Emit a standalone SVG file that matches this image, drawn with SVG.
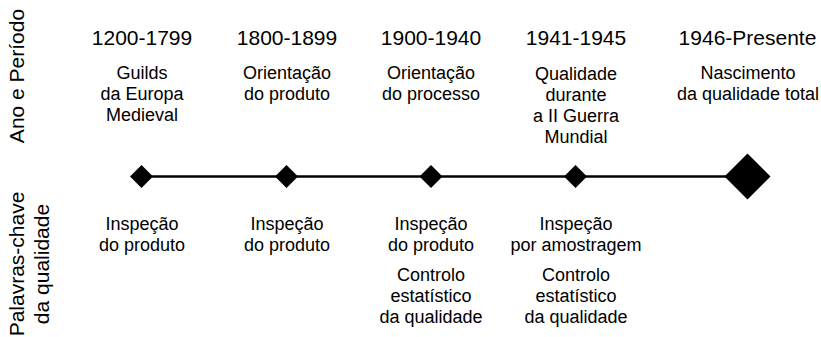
<svg xmlns="http://www.w3.org/2000/svg" width="821" height="337" viewBox="0 0 821 337">
<style>
text{font-family:"Liberation Sans",Arial,Helvetica,sans-serif;fill:#000;text-anchor:middle}
.yr{font-size:21px}
.t{font-size:18px}
.side{font-size:21px}
.dia{fill:#000}
</style>
<rect width="821" height="337" fill="#fff"/>
<g id="side-labels">
<text class="side" transform="translate(24,76) rotate(-90)">Ano e Período</text>
<text class="side" transform="translate(23.5,264) rotate(-90)">Palavras-chave</text>
<text class="side" transform="translate(49,264) rotate(-90)">da qualidade</text>
</g>
<g id="connectors">
<line x1="141.5" y1="176.5" x2="747.5" y2="176.5" stroke="#000" stroke-width="2.6"/>
</g>
<g id="node-1200">
<polygon class="dia" points="141.5,165 153,176.5 141.5,188 130,176.5"/>
<text class="yr" x="142" y="45">1200-1799</text>
<text class="t" x="142" y="79">Guilds</text>
<text class="t" x="142" y="100">da Europa</text>
<text class="t" x="142" y="120.5">Medieval</text>
<text class="t" x="142" y="230">Inspeção</text>
<text class="t" x="142" y="251">do produto</text>
</g>
<g id="node-1800">
<polygon class="dia" points="286.5,165 298,176.5 286.5,188 275,176.5"/>
<text class="yr" x="287" y="45">1800-1899</text>
<text class="t" x="287" y="79">Orientação</text>
<text class="t" x="287" y="100">do produto</text>
<text class="t" x="287" y="230">Inspeção</text>
<text class="t" x="287" y="251">do produto</text>
</g>
<g id="node-1900">
<polygon class="dia" points="431,165 442.5,176.5 431,188 419.5,176.5"/>
<text class="yr" x="431" y="45">1900-1940</text>
<text class="t" x="431" y="79">Orientação</text>
<text class="t" x="431" y="100">do processo</text>
<text class="t" x="431" y="230">Inspeção</text>
<text class="t" x="431" y="251">do produto</text>
<text class="t" x="431" y="281">Controlo</text>
<text class="t" x="431" y="302">estatístico</text>
<text class="t" x="431" y="323">da qualidade</text>
</g>
<g id="node-1941">
<polygon class="dia" points="575.5,165 587,176.5 575.5,188 564,176.5"/>
<text class="yr" x="576" y="45">1941-1945</text>
<text class="t" x="576" y="79.5">Qualidade</text>
<text class="t" x="576" y="100.5">durante</text>
<text class="t" x="576" y="121.5">a II Guerra</text>
<text class="t" x="576" y="142.5">Mundial</text>
<text class="t" x="576" y="230">Inspeção</text>
<text class="t" x="576" y="251">por amostragem</text>
<text class="t" x="576" y="281">Controlo</text>
<text class="t" x="576" y="302">estatístico</text>
<text class="t" x="576" y="323">da qualidade</text>
</g>
<g id="node-1946">
<polygon class="dia" points="747.5,153.5 770.5,176.5 747.5,199.5 724.5,176.5"/>
<text class="yr" x="747.5" y="45">1946-Presente</text>
<text class="t" x="748" y="79">Nascimento</text>
<text class="t" x="748" y="100">da qualidade total</text>
</g>
</svg>
